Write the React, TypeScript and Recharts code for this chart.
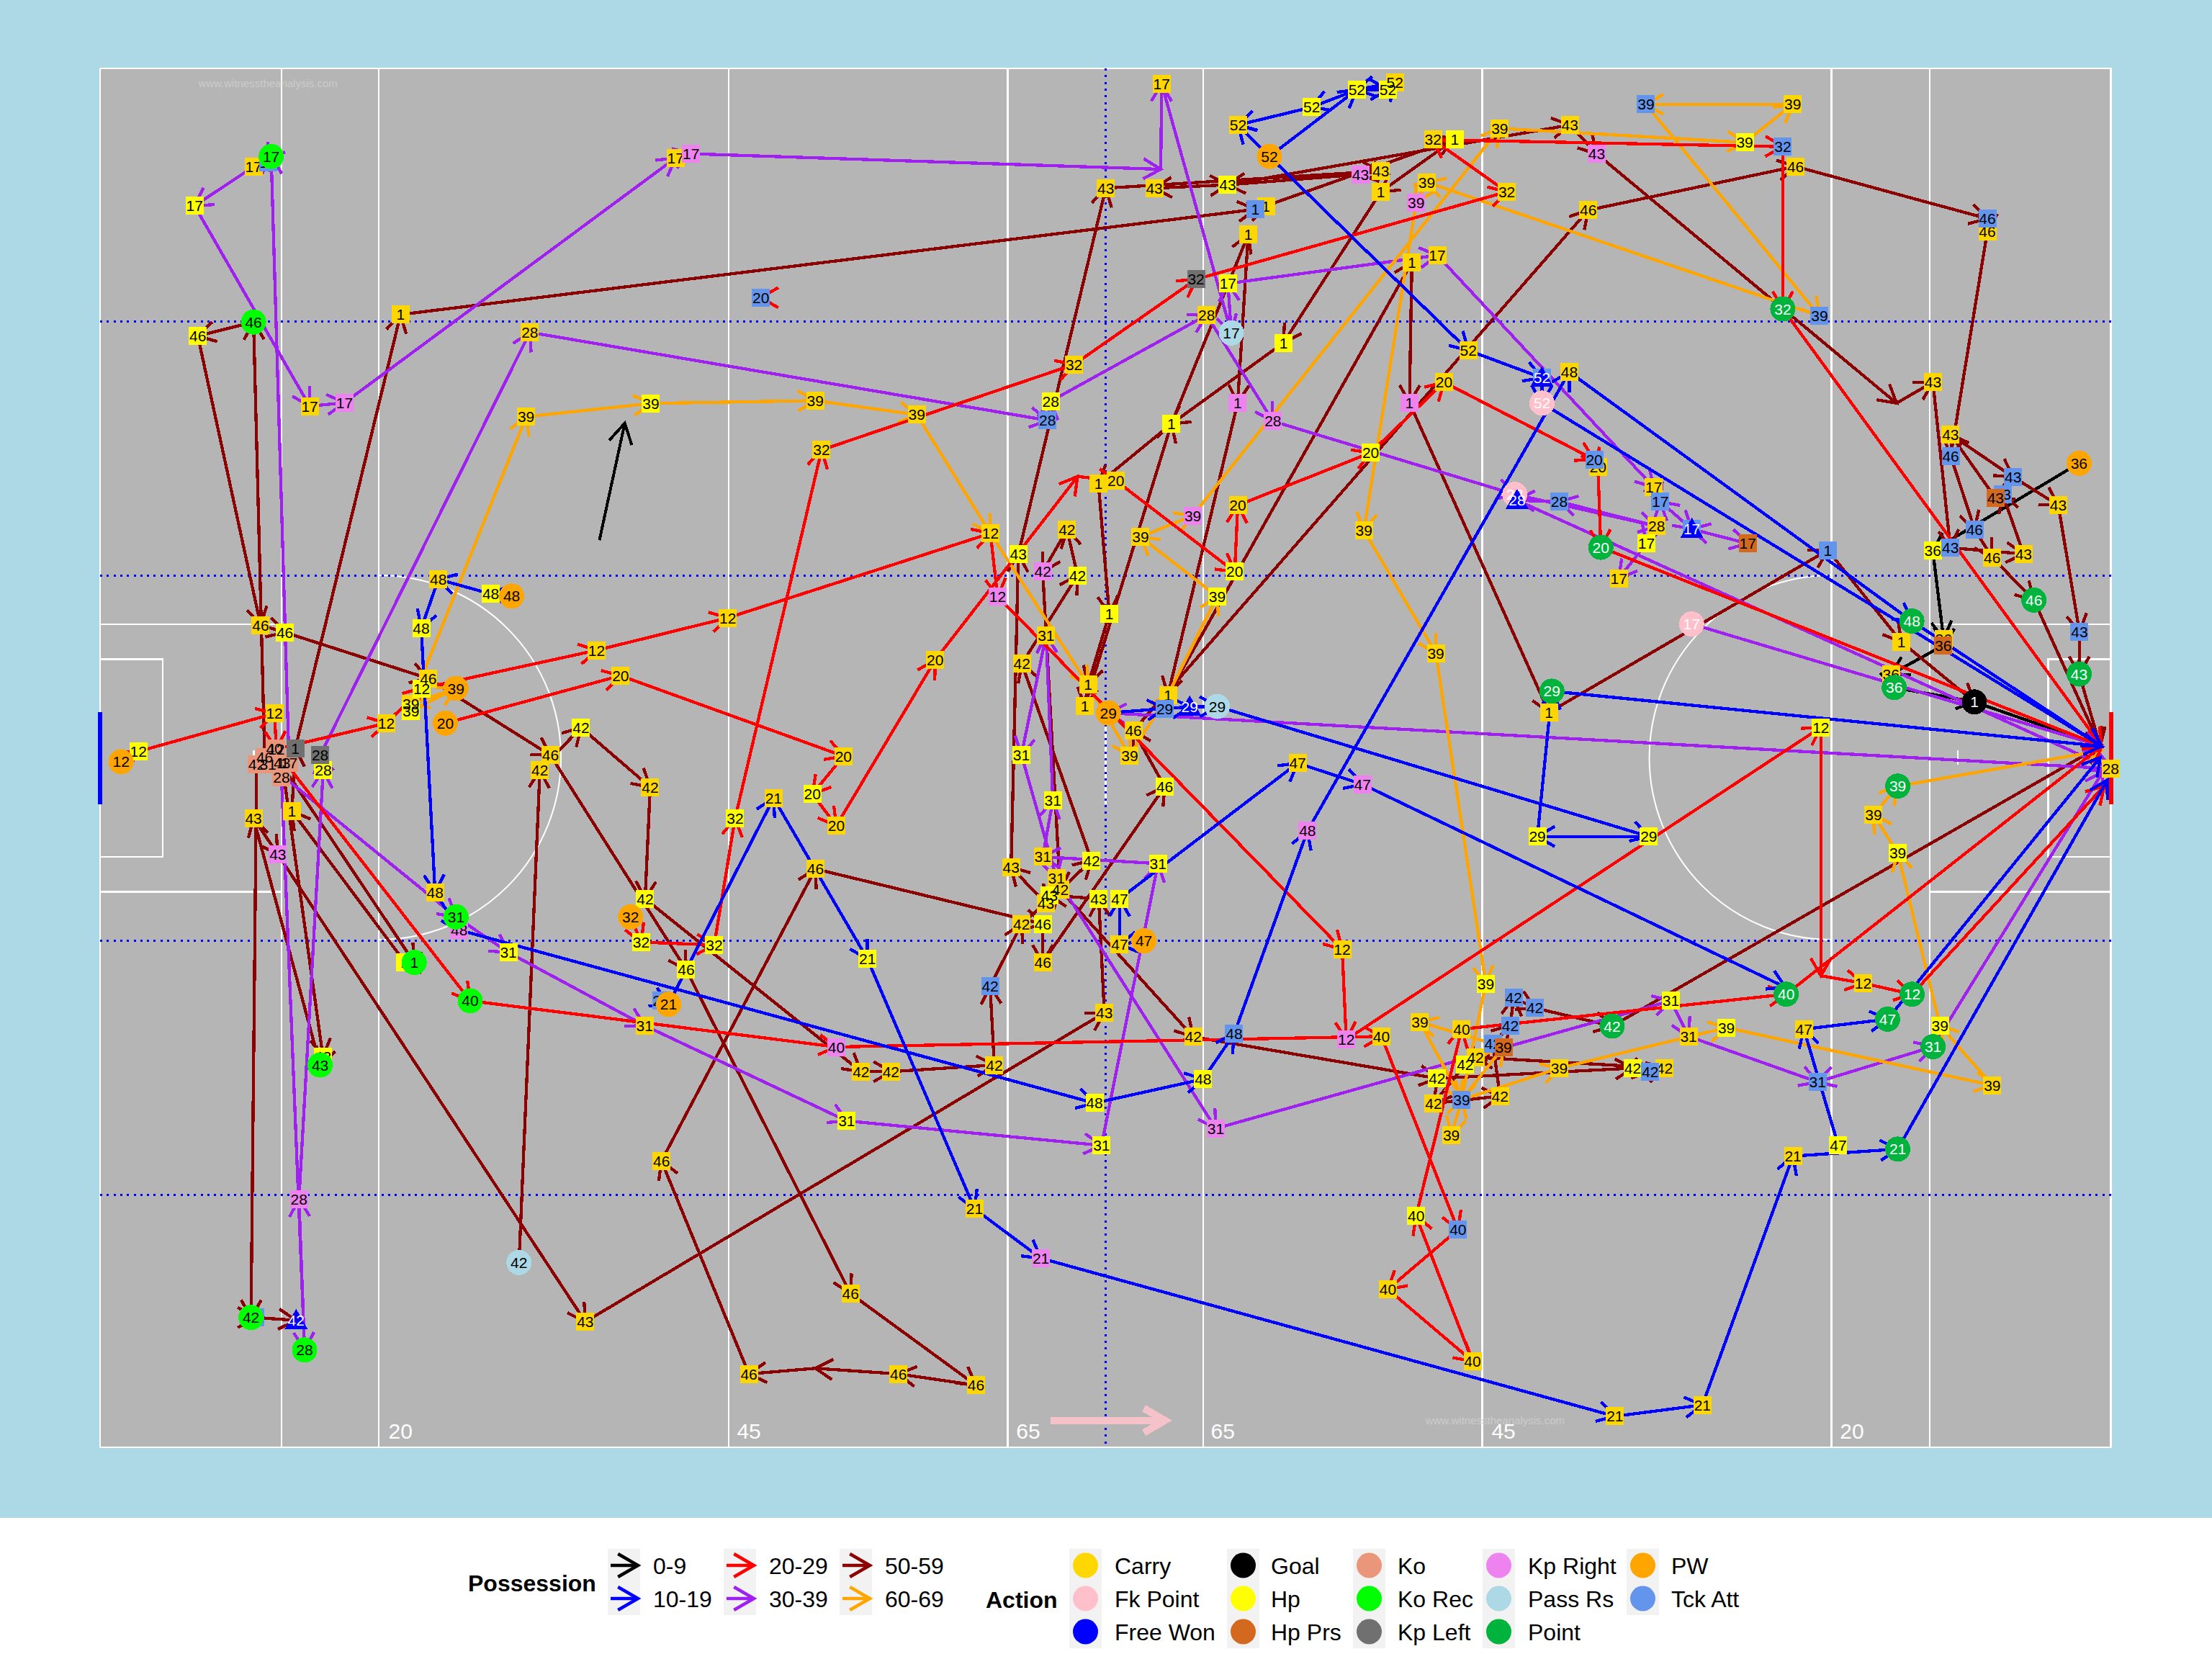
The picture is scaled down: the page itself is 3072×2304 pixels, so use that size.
import { CartesianGrid, Scatter, ScatterChart, XAxis, YAxis } from 'recharts';

// pitch units: x 71..1497, y 48..1026 (y runs downwards)
type Pt = [number, number, string?];

const BLACK = '#000000';
const BLUE = '#0000FF';
const RED = '#FF0000';
const PURPLE = '#A020F0';
const MAROON = '#8B0000';
const ORANGE = '#FFA500';

const possessionBands = [
  ['0-9', BLACK],
  ['10-19', BLUE],
  ['20-29', RED],
  ['30-39', PURPLE],
  ['50-59', MAROON],
  ['60-69', ORANGE],
];

const actionColumns = [
  ['Carry', 'Fk Point', 'Free Won'],
  ['Goal', 'Hp', 'Hp Prs'],
  ['Ko', 'Ko Rec', 'Kp Left'],
  ['Kp Right', 'Pass Rs', 'Point'],
  ['PW', 'Tck Att'],
];

const actionFill: Record<string, string> = {
  Carry: '#FFD700',
  Hp: '#FFFF00',
  'Hp Prs': '#D2691E',
  Ko: '#E9967A',
  'Kp Left': '#707070',
  'Kp Right': '#EE82EE',
  'Tck Att': '#6495ED',
  PW: '#FFA500',
  'Pass Rs': '#ADD8E6',
  'Fk Point': '#FFC0CB',
  'Ko Rec': '#00FF00',
  Point: '#00B33C',
  Goal: '#000000',
  'Free Won': '#0000FF',
};

// actions sharing a layer keep each other's numbers readable, later layers cover earlier ones
const actionLayers = [['Carry', 'Hp'], ['Ko'], ['Kp Left'], ['Kp Right'], ['Tck Att'], ['Hp Prs'], ['PW'], ['Pass Rs'], ['Fk Point'], ['Ko Rec'], ['Point'], ['Goal'], ['Free Won']];
const circleActions = ['PW', 'Pass Rs', 'Fk Point', 'Ko Rec', 'Point', 'Goal'];
const whiteTextActions = ['Fk Point', 'Point', 'Goal', 'Free Won'];

const poss1: Pt[] = [[199, 541, 'Ko'], [293.7, 682.3, 'Ko Rec'], [287, 682, 'Hp'], [207, 575, 'Carry'], [209.4, 530.6, 'Kp Left'], [284, 223, 'Carry'], [890, 148.4, 'Tck Att'], [897.5, 146, 'Carry'], [1031.4, 98.6, 'Hp'], [979, 136, 'Carry'], [910, 243, 'Hp'], [830.5, 300.5, 'Hp'], [778.8, 342.9, 'Carry'], [786.5, 435.1, 'Hp'], [771.5, 485.3, 'Carry'], [769.1, 500.3, 'Carry'], [830.5, 300.5], [885, 166.3, 'Carry'], [877.5, 285.5, 'Kp Right'], [828.1, 492.6, 'Carry'], [1001, 186, 'Carry'], [999.3, 285.5, 'Kp Right'], [1098.2, 505, 'Carry'], [1295.9, 390, 'Tck Att'], [1348, 455, 'Carry'], [1399.8, 497.6, 'Goal']];
const poss12: Pt[] = [[85.9, 540, 'PW'], [98.2, 532.7, 'Hp'], [194.6, 505.8, 'Carry'], [196, 531, 'Ko'], [273.9, 512.7, 'Carry'], [299, 488, 'Hp'], [423, 461, 'Carry'], [516, 438, 'Carry'], [702.2, 378.1, 'Carry'], [707.3, 422.8, 'Kp Right'], [951.6, 673, 'Carry'], [954.5, 737, 'Kp Right'], [1291, 515.6, 'Hp'], [1291, 691.7], [1320.9, 697, 'Carry'], [1355.7, 704.8, 'Point'], [1492, 557]];
const poss17: Pt[] = [[205, 541, 'Ko'], [192.3, 110.9, 'Ko Rec'], [190, 115, 'Tck Att'], [179.8, 118.2, 'Carry'], [138, 145.9, 'Hp'], [219.6, 288, 'Carry'], [244.3, 285.5, 'Kp Right'], [479, 112, 'Carry'], [490, 109, 'Kp Right'], [823, 120], [823.6, 59.4, 'Carry'], [873, 236, 'Pass Rs'], [870.6, 201, 'Hp'], [1019, 181, 'Carry'], [1172.5, 345.4, 'Carry'], [1177.1, 355.6, 'Tck Att'], [1199.5, 375.1, 'Tck Att'], [1239.1, 385.3, 'Hp Prs'], [1199.5, 375.1, 'Free Won'], [1177.1, 355.6], [1167.3, 385.3, 'Hp'], [1147.7, 410, 'Carry']];
const poss17Shot: Pt[] = [[1199.3, 442.3, 'Fk Point'], [1490, 529]];
const poss20: Pt[] = [[315.8, 512.7, 'PW'], [440, 479, 'Carry'], [598, 536, 'Carry'], [576, 563, 'Hp'], [593, 585.3, 'Carry'], [663, 468, 'Carry'], [764, 337.8], [791.2, 340.8, 'Carry'], [875.4, 405.3, 'Hp'], [877.6, 358.2, 'Carry'], [971.8, 321, 'Hp'], [1023.8, 271, 'Carry'], [1130.3, 325.8, 'Tck Att'], [1132.9, 331, 'Carry'], [1135, 388, 'Point'], [1490, 529]];
const poss20Tackle: Pt[] = [[541, 211], [539.5, 211, 'Tck Att']];
const poss21: Pt[] = [[468.7, 709.5, 'Tck Att'], [474, 712, 'PW'], [548.5, 565.8, 'Carry'], [615, 679.8, 'Hp'], [691, 857, 'Carry'], [738, 892, 'Kp Right'], [1145, 1004, 'Carry'], [1207, 996, 'Carry'], [1271.2, 819.6, 'Carry'], [1345.5, 814.6, 'Point'], [1494, 553]];
const poss28: Pt[] = [[199.6, 551.2, 'Ko'], [216, 957, 'Ko Rec'], [212, 850, 'Kp Right'], [229.2, 546, 'Hp'], [227, 535.4, 'Kp Left'], [375.7, 235.6, 'Carry'], [742.7, 298, 'Tck Att'], [745, 284.4, 'Hp'], [855.5, 223.4, 'Carry'], [902.5, 298.6, 'Kp Right'], [1074, 350.5, 'Fk Point'], [1174.5, 373, 'Carry'], [1105.5, 355.6, 'Tck Att'], [1075.6, 354.7, 'Free Won'], [1496.4, 544.9, 'Carry'], [786, 505.4]];
const poss29: Pt[] = [[785.8, 505.4, 'PW'], [825.8, 502.3, 'Tck Att'], [843.5, 501.1, 'Free Won'], [863, 500.8, 'Pass Rs'], [1169, 593, 'Hp'], [1090, 593, 'Hp'], [1100.3, 490, 'Point'], [1490, 529]];
const poss31: Pt[] = [[190, 541.7, 'Ko'], [323.4, 650, 'Ko Rec'], [360.5, 675.2, 'Hp'], [457, 727, 'Carry'], [600.3, 794.6, 'Hp'], [781, 812, 'Hp'], [821, 612.2, 'Hp'], [739.3, 607.4, 'Carry'], [746.5, 567.4, 'Hp'], [741.7, 450.4, 'Carry'], [724.2, 535.1, 'Hp'], [749, 622.4, 'Carry'], [862, 800, 'Kp Right'], [1184.6, 709.5, 'Hp'], [1197.2, 734.7, 'Carry'], [1288.6, 767, 'Tck Att'], [1370.5, 742, 'Point'], [1288.6, 767], [1370.5, 742], [1491, 547]];
const poss32: Pt[] = [[447.1, 650, 'PW'], [454.6, 667.9, 'Hp'], [506.4, 669.9, 'Hp'], [521.2, 580.2, 'Hp'], [582.5, 319, 'Carry'], [761.5, 258.4, 'Carry'], [848, 198, 'Kp Left'], [1068.3, 136, 'Carry'], [1016, 99, 'Carry'], [1264, 104, 'Tck Att'], [1264, 219, 'Point'], [1490, 529]];
const poss36: Pt[] = [[1474, 328.4, 'PW'], [1370.3, 390.2, 'Hp'], [1378, 453, 'Carry'], [1377.7, 457.6, 'Hp Prs'], [1340.7, 478, 'Carry'], [1343, 487.4, 'Point'], [1399.8, 497.6], [1490, 529]];
const poss39: Pt[] = [[291.4, 504, 'Hp'], [323.3, 488, 'PW'], [291.4, 499, 'Carry'], [373, 295.4, 'Carry'], [461.5, 286, 'Hp'], [578, 284, 'Carry'], [650, 294, 'Carry'], [702.2, 378.1], [771.5, 485.3], [801, 535.6, 'Carry'], [828.1, 492.6], [863, 422.8, 'Hp'], [808.6, 380.6, 'Carry'], [845.7, 365.5, 'Kp Right'], [1063.3, 91, 'Carry'], [1237, 101, 'Hp'], [1271, 74, 'Carry'], [1167, 74, 'Tck Att'], [1290, 224, 'Tck Att'], [1011.6, 129.2, 'Carry'], [1004, 143.8, 'Kp Right'], [967, 376, 'Carry'], [1018, 463, 'Carry'], [1053.4, 697.3, 'Hp'], [1036.3, 779.6, 'Tck Att'], [1066, 742.2, 'Hp Prs'], [1006.7, 724.5, 'Carry'], [1036.3, 779.6], [1029, 804.5, 'Carry'], [1036.3, 779.6], [1105.5, 757.2, 'Carry'], [1224, 728.5, 'Hp'], [1412.5, 769.4, 'Carry'], [1375.4, 727, 'Hp'], [1345.5, 604.8, 'Hp'], [1328.3, 577.5, 'Carry'], [1345.5, 557.3, 'Point'], [1490, 532]];
const poss40: Pt[] = [[194.6, 530.6, 'Ko'], [333.4, 709.5, 'Ko Rec'], [593, 742.2, 'Kp Right'], [979.4, 734.7, 'Carry'], [1033.7, 871.7, 'Tck Att'], [984, 914, 'Carry'], [1044, 965, 'Carry'], [1004, 862.1, 'Hp'], [1036.3, 729.6, 'Carry'], [1266.4, 704.8, 'Point'], [1490, 529]];
const poss42: Pt[] = [[182, 541.7, 'Ko'], [178, 934, 'Ko Rec'], [181, 934, 'Tck Att'], [210, 936, 'Free Won']];
const poss42Late: Pt[] = [[368, 895, 'Pass Rs'], [382.8, 546, 'Carry'], [412, 515.8, 'Hp'], [461, 558, 'Carry'], [457.4, 637.2, 'Hp'], [610.5, 759.7, 'Carry'], [631.7, 759.7, 'Carry'], [705, 755, 'Carry'], [702, 699.3, 'Tck Att'], [724.3, 655, 'Carry'], [751.7, 630.9, 'Carry'], [773.9, 610, 'Hp'], [724.5, 470.5, 'Carry'], [764, 407.9, 'Hp'], [756.5, 375.5, 'Carry'], [739.3, 405.3, 'Kp Right'], [751.7, 630.9], [846, 735, 'Carry'], [1018.9, 764.5, 'Hp'], [1157.6, 757.2, 'Hp'], [1170, 759.7, 'Tck Att'], [1180, 757.2, 'Carry'], [1046.1, 749.5, 'Carry'], [1038.8, 754.6, 'Hp'], [1016.4, 782.2, 'Carry'], [1063.5, 777, 'Carry'], [1058.4, 739.8, 'Tck Att'], [1070.8, 726.9, 'Tck Att'], [1073.2, 707.3, 'Tck Att'], [1088.2, 714.6, 'Tck Att'], [1143, 727.4, 'Point'], [1489, 529]];
const poss43: Pt[] = [[200, 541, 'Ko'], [229, 749, 'Hp'], [227, 755, 'Ko Rec'], [179.8, 580.2, 'Carry'], [197, 605.5, 'Kp Right'], [415, 937, 'Carry'], [783, 718, 'Carry'], [779, 637.2, 'Hp'], [744.1, 634.6, 'Hp'], [741.5, 640.6, 'Carry'], [716.9, 614.7, 'Carry'], [722, 393, 'Hp'], [784, 133.4, 'Carry'], [979, 121.3, 'Carry'], [964.6, 123.6, 'Kp Right'], [870.4, 131, 'Hp'], [818.4, 133.4, 'Carry'], [870.4, 131], [1113, 88.6, 'Carry'], [1132, 109, 'Kp Right'], [1344.6, 285.8], [1370.4, 270.9, 'Carry'], [1382.8, 388.3, 'Tck Att'], [1434.7, 392.7, 'Carry'], [1419.9, 350.5, 'Tck Att'], [1414.8, 353.1, 'Hp Prs'], [1382.9, 308, 'Carry'], [1427.2, 338.1, 'Tck Att'], [1459.3, 358.2, 'Carry'], [1474.3, 448, 'Tck Att'], [1474.1, 477.8, 'Point'], [1489, 529]];
const poss46: Pt[] = [[187.7, 536.6, 'Ko'], [179.8, 228.3, 'Ko Rec'], [140.3, 238.2, 'Hp'], [184.8, 443.1, 'Carry'], [202, 448.3, 'Hp'], [303.7, 481, 'Carry'], [390.3, 535.4, 'Carry'], [486.5, 687.4, 'Hp'], [603, 917, 'Carry'], [692, 982, 'Carry'], [637, 974, 'Carry'], [578, 970], [531, 974, 'Carry'], [469, 823, 'Carry'], [578.2, 616, 'Carry'], [739.3, 655, 'Hp'], [739.3, 682.3, 'Carry'], [825.8, 557.7, 'Hp'], [803.6, 518, 'Carry'], [1126, 149, 'Carry'], [1273, 118, 'Carry'], [1409, 155, 'Tck Att'], [1409, 164, 'Carry'], [1383, 323.3, 'Tck Att'], [1400, 375.3, 'Tck Att'], [1412.4, 395.2, 'Carry'], [1442, 425.4, 'Point'], [1489, 529]];
const poss47: Pt[] = [[811, 667, 'PW'], [793.8, 669.5, 'Carry'], [793.8, 637.2, 'Hp'], [920, 541, 'Carry'], [966, 556, 'Kp Right'], [1266, 700]];
const poss47Late: Pt[] = [[1303.3, 811.9, 'Hp'], [1278.9, 729.6, 'Carry'], [1338.3, 722.5, 'Point'], [1489, 537]];
const poss48: Pt[] = [[362.8, 422.6, 'PW'], [348, 421, 'Hp'], [310.8, 410.7, 'Carry'], [298.7, 445.5, 'Hp'], [308.5, 632.6, 'Carry'], [325.6, 659.3, 'Kp Right'], [776, 782, 'Hp'], [853, 765, 'Hp'], [875, 733, 'Tck Att'], [927, 589, 'Kp Right'], [1112.6, 263.7, 'Carry'], [1355.5, 440.3, 'Point'], [1490, 529]];
const poss52: Pt[] = [[900, 110.9, 'PW'], [962, 63.6, 'Hp'], [984, 63.6, 'Hp'], [989, 58.4, 'Carry'], [962, 63.6], [930, 76, 'Hp'], [877.8, 88.6, 'Carry']];
const poss52Back: Pt[] = [[900, 110.9], [877.8, 88.6]];
const poss52Shot: Pt[] = [[900, 110.9], [1041, 248.4, 'Carry'], [1093.2, 267.8, 'Tck Att'], [1093.3, 285.8, 'Fk Point'], [1490, 529]];
const freeWonExtra: Pt[] = [[1093.2, 267.8, 'Free Won']];

const possessions: [number, string, Pt[]][] = [
  [36, BLACK, poss36],
  [1, MAROON, poss1],
  [46, MAROON, poss46],
  [43, MAROON, poss43],
  [42, MAROON, poss42],
  [42, MAROON, poss42Late],
  [17, PURPLE, poss17],
  [17, PURPLE, poss17Shot],
  [28, PURPLE, poss28],
  [31, PURPLE, poss31],
  [39, ORANGE, poss39],
  [12, RED, poss12],
  [20, RED, poss20],
  [20, RED, poss20Tackle],
  [32, RED, poss32],
  [40, RED, poss40],
  [21, BLUE, poss21],
  [29, BLUE, poss29],
  [47, BLUE, poss47],
  [47, BLUE, poss47Late],
  [48, BLUE, poss48],
  [52, BLUE, poss52],
  [52, BLUE, poss52Back],
  [52, BLUE, poss52Shot],
  [52, BLUE, freeWonExtra],
];

const whiteLines: Pt[][] = [
  [[71, 48.5], [1496.6, 48.5], [1496.6, 1026], [71, 1026], [71, 48.5]],
  [[199.6, 48.5], [199.6, 1026]],
  [[268.6, 48.5], [268.6, 1026]],
  [[516.6, 48.5], [516.6, 1026]],
  [[714.6, 48.5], [714.6, 1026]],
  [[853, 48.5], [853, 1026]],
  [[1051, 48.5], [1051, 1026]],
  [[1298.5, 48.5], [1298.5, 1026]],
  [[1368.2, 48.5], [1368.2, 1026]],
  [[71, 442.6], [199.6, 442.6]],
  [[71, 632.2], [199.6, 632.2]],
  [[1368.2, 442.6], [1496.6, 442.6]],
  [[1368.2, 632.2], [1496.6, 632.2]],
  [[71, 467.4], [115.3, 467.4], [115.3, 607.4], [71, 607.4]],
  [[1496.6, 467.4], [1452.2, 467.4], [1452.2, 607.4], [1496.6, 607.4]],
  [[784, 505], [784, 570]],
  [[180, 532], [180, 542]],
  [[1388, 532], [1388, 542]],
];
const dottedLines: Pt[][] = [
  [[71, 228], [1496.6, 228]],
  [[71, 408], [1496.6, 408]],
  [[71, 667], [1496.6, 667]],
  [[71, 847], [1496.6, 847]],
  [[784, 48.5], [784, 1026]],
];
const goalBars: [string, Pt[]][] = [
  [BLUE, [[71, 505], [71, 570]]],
  [RED, [[1496.8, 505], [1496.8, 570]]],
];
const attackArrow: Pt[] = [[425, 383], [443, 300]];
const directionArrow: Pt[] = [[745, 1007], [826, 1007]];

const arcCentres = [
  { x: 268.6, y: 537, side: 1 },
  { x: 1298.5, y: 537, side: 0 },
];
const thirdsLabels = [
  { x: 284, y: 1015, text: '20' },
  { x: 531, y: 1015, text: '45' },
  { x: 729, y: 1015, text: '65' },
  { x: 867, y: 1015, text: '65' },
  { x: 1066, y: 1015, text: '45' },
  { x: 1313, y: 1015, text: '20' },
];
const watermarks = [
  { x: 190, y: 59, text: 'www.witnesstheanalysis.com' },
  { x: 1060, y: 1007, text: 'www.witnesstheanalysis.com' },
];

const FONT = '"Liberation Sans", Arial, sans-serif';
const rows = (pts: Pt[]) => pts.map(([x, y]) => ({ x, y }));
const nothing = () => <g />;

const nodes = possessions.flatMap(([id, , pts]) =>
  pts.filter((p) => p[2]).map(([x, y, action]) => ({ x, y, action: action as string, id })),
);
const nodeLayers = actionLayers.map((actions) =>
  actions.flatMap((action) => nodes.filter((n) => n.action === action)),
);

function barbs(x: number, y: number, angle: number, head: number) {
  const a = angle + Math.PI / 6;
  const b = angle - Math.PI / 6;
  return `M${x - head * Math.cos(a)} ${y - head * Math.sin(a)}L${x} ${y}L${x - head * Math.cos(b)} ${y - head * Math.sin(b)}`;
}

// the Scatter hands its joint line points over here, so the heads follow the chart's scales
const arrowLine = (color: string, width = 4.3, head = 28) => (props: any) => {
  const pts = props.points as { x: number; y: number }[];
  let d = '';
  pts.forEach((p, i) => {
    if (i === 0) return;
    const q = pts[i - 1];
    d += `M${q.x} ${q.y}L${p.x} ${p.y}`;
    d += barbs(p.x, p.y, Math.atan2(p.y - q.y, p.x - q.x), head);
  });
  return <path d={d} fill="none" stroke={color} strokeWidth={width} shapeRendering="crispEdges" />;
};

const plainLine = (color: string, width: number, dash?: string) => (props: any) => {
  const pts = props.points as { x: number; y: number }[];
  const d = pts.map((p, i) => `${i ? 'L' : 'M'}${p.x} ${p.y}`).join('');
  return <path d={d} fill="none" stroke={color} strokeWidth={width} strokeDasharray={dash} shapeRendering="crispEdges" />;
};

const NodeTile = (props: any) => {
  const { cx, cy, payload } = props;
  const { action } = payload;
  const fill = actionFill[action];
  if (circleActions.includes(action)) {
    return <circle cx={cx} cy={cy} r={17.5} fill={fill} shapeRendering="crispEdges" />;
  }
  if (action === 'Free Won') {
    return <polygon points={`${cx},${cy - 16} ${cx - 16},${cy + 12} ${cx + 16},${cy + 12}`} fill={fill} shapeRendering="crispEdges" />;
  }
  return <rect x={cx - 12.5} y={cy - 12.5} width={25} height={25} fill={fill} shapeRendering="crispEdges" />;
};

const NodeNumber = (props: any) => {
  const { cx, cy, payload } = props;
  return (
    <text x={cx} y={cy + 7.5} textAnchor="middle" fontFamily={FONT} fontSize={21} fill={whiteTextActions.includes(payload.action) ? '#FFFFFF' : '#000000'}>
      {payload.id}
    </text>
  );
};

const ArcMark = (props: any) => {
  const { cx, cy, payload } = props;
  const r = 253;
  return <path d={`M${cx} ${cy - r}A${r} ${r} 0 0 ${payload.side} ${cx} ${cy + r}`} fill="none" stroke="#FFFFFF" strokeWidth={2} />;
};

const thirdsLabel = (props: any) => (
  <text x={props.cx} y={props.cy + 10} textAnchor="middle" fontFamily={FONT} fontSize={30} fill="#FFFFFF">
    {props.payload.text}
  </text>
);

const watermark = (props: any) => (
  <text x={props.cx} y={props.cy + 5} textAnchor="middle" fontFamily={FONT} fontSize={15} fill="#CCCCCC">
    {props.payload.text}
  </text>
);

function Legends() {
  const possX = [844, 1005, 1166];
  const actionX = [1485, 1704, 1879, 2059, 2259];
  const actionLabelX = [1548, 1765, 1941, 2122, 2321];
  const text = { fontFamily: FONT, fontSize: 32, fill: '#000000' };
  return (
    <svg width={3072} height={2304} style={{ position: 'absolute', left: 0, top: 0 }}>
      <text x={650} y={2210} {...text} fontWeight="bold">Possession</text>
      {possessionBands.map(([label, color], i) => {
        const col = Math.floor(i / 2);
        const row = i % 2;
        const x = possX[col];
        const y = 2151 + row * 46;
        return (
          <g key={label}>
            <rect x={x} y={y} width={45} height={46} fill="#F2F2F2" />
            <path d={`M${x + 4} ${y + 23}L${x + 42} ${y + 23}${barbs(x + 42, y + 23, 0, 32)}`} fill="none" stroke={color} strokeWidth={4.5} />
            <text x={x + 63} y={y + 35} {...text}>{label}</text>
          </g>
        );
      })}
      <text x={1369} y={2233} {...text} fontWeight="bold">Action</text>
      {actionColumns.map((column, c) =>
        column.map((label, r) => {
          const y = 2151 + r * 46;
          return (
            <g key={label}>
              <rect x={actionX[c]} y={y} width={45} height={46} fill="#F2F2F2" />
              <circle cx={actionX[c] + 22.5} cy={y + 23} r={17.5} fill={actionFill[label]} />
              <text x={actionLabelX[c]} y={y + 35} {...text}>{label}</text>
            </g>
          );
        }),
      )}
    </svg>
  );
}

export default function App() {
  return (
    <div style={{ position: 'absolute', left: 0, top: 0, width: 3072, height: 2304, background: '#FFFFFF', overflow: 'hidden' }}>
      <div style={{ position: 'absolute', left: 0, top: 0, width: 3072, height: 2108, background: '#ADD8E6' }} />
      <div style={{ position: 'absolute', left: 0, top: 0 }}>
        <ScatterChart width={3072} height={2304} margin={{ top: 95, right: 140, bottom: 294, left: 139 }}>
          <CartesianGrid horizontal={false} vertical={false} fill="#B5B5B5" />
          <XAxis type="number" dataKey="x" domain={[71, 1496.6]} hide />
          <YAxis type="number" dataKey="y" domain={[48.5, 1026]} reversed hide />
          {whiteLines.map((pts, i) => (
            <Scatter key={`w${i}`} data={rows(pts)} line={plainLine('#FFFFFF', 2.5)} shape={nothing} isAnimationActive={false} />
          ))}
          <Scatter data={arcCentres} shape={ArcMark} isAnimationActive={false} />
          <Scatter data={watermarks} shape={watermark} isAnimationActive={false} />
          <Scatter data={thirdsLabels} shape={thirdsLabel} isAnimationActive={false} />
          {dottedLines.map((pts, i) => (
            <Scatter key={`d${i}`} data={rows(pts)} line={plainLine(BLUE, 3, '3 6.3')} shape={nothing} isAnimationActive={false} />
          ))}
          {goalBars.map(([color, pts]) => (
            <Scatter key={color} data={rows(pts)} line={plainLine(color, 6)} shape={nothing} isAnimationActive={false} />
          ))}
          <Scatter data={rows(attackArrow)} line={arrowLine(BLACK, 4, 32)} shape={nothing} isAnimationActive={false} />
          <Scatter data={rows(directionArrow)} line={arrowLine('#F4C2C8', 10, 34)} shape={nothing} isAnimationActive={false} />
          {possessions.map(([id, color, pts], i) => (
            <Scatter key={`${id}-${i}`} data={rows(pts)} line={arrowLine(color)} shape={nothing} isAnimationActive={false} />
          ))}
          {nodeLayers.flatMap((layer, i) => [
            <Scatter key={`tile${i}`} data={layer} shape={NodeTile} isAnimationActive={false} />,
            <Scatter key={`num${i}`} data={layer} shape={NodeNumber} isAnimationActive={false} />,
          ])}
        </ScatterChart>
      </div>
      <Legends />
    </div>
  );
}
